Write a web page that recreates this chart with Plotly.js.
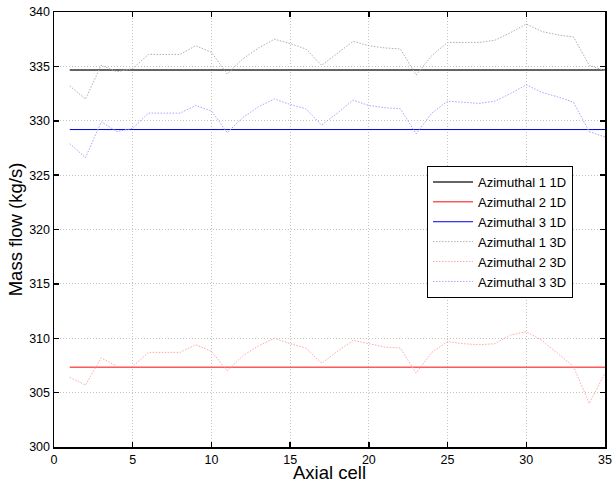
<!DOCTYPE html>
<html>
<head>
<meta charset="utf-8">
<script src="https://cdn.plot.ly/plotly-3.0.1.min.js"></script>
<style>html,body{margin:0;padding:0;background:#fff;}#chart{width:613px;height:483px;}</style>
</head>
<body>
<div id="chart"></div>
<script>
var axialCells = [];
for (var i = 1; i <= 35; i++) axialCells.push(i);

var az1_1D = 334.67;
var az2_1D = 307.34;
var az3_1D = 329.19;

var az1_3D = [333.2, 332.0, 335.1, 334.5, 334.8, 336.1, 336.1, 336.1, 336.9, 336.3,
              334.3, 335.7, 336.7, 337.5, 337.1, 336.6, 335.1, 336.2, 337.3, 336.9,
              336.7, 336.6, 334.2, 336.0, 337.2, 337.2, 337.2, 337.4, 338.1, 338.9,
              338.2, 337.9, 337.7, 335.1, 334.6];
var az2_3D = [306.4, 305.7, 308.2, 307.4, 307.4, 308.7, 308.7, 308.7, 309.4, 308.8,
              307.0, 308.4, 309.3, 310.0, 309.5, 309.1, 307.7, 308.8, 309.8, 309.5,
              309.2, 309.1, 306.8, 308.7, 309.7, 309.5, 309.4, 309.5, 310.3, 310.6,
              309.8, 308.6, 307.4, 304.0, 306.8];
var az3_3D = [327.9, 326.6, 329.9, 329.0, 329.3, 330.7, 330.7, 330.7, 331.4, 330.9,
              328.9, 330.3, 331.3, 332.0, 331.5, 331.1, 329.6, 330.7, 331.9, 331.4,
              331.2, 331.1, 328.8, 330.7, 331.8, 331.7, 331.6, 331.8, 332.5, 333.3,
              332.6, 332.2, 331.7, 329.0, 328.5];

var seriesNames = ['Azimuthal 1 1D', 'Azimuthal 2 1D', 'Azimuthal 3 1D',
                   'Azimuthal 1 3D', 'Azimuthal 2 3D', 'Azimuthal 3 3D'];

function constant(v) { return axialCells.map(function () { return v; }); }

var dotted = '1.5px,1.5px';
var traces = [
  {x: axialCells, y: constant(az1_1D), name: seriesNames[0], mode: 'lines',
   line: {color: 'rgb(50,50,50)', width: 1.5}},
  {x: axialCells, y: constant(az2_1D), name: seriesNames[1], mode: 'lines',
   line: {color: 'rgb(255,90,90)', width: 1.5}},
  {x: axialCells, y: constant(az3_1D), name: seriesNames[2], mode: 'lines',
   line: {color: 'rgb(0,0,230)', width: 1}},
  {x: axialCells, y: az1_3D, name: seriesNames[3], mode: 'lines',
   line: {color: 'rgb(175,175,175)', width: 1, dash: dotted}},
  {x: axialCells, y: az2_3D, name: seriesNames[4], mode: 'lines',
   line: {color: 'rgb(255,165,165)', width: 1, dash: dotted}},
  {x: axialCells, y: az3_3D, name: seriesNames[5], mode: 'lines',
   line: {color: 'rgb(165,165,255)', width: 1, dash: dotted}}
];

var axisCommon = {
  showline: true, linecolor: 'black', linewidth: 1.5, mirror: 'ticks',
  ticks: 'inside', ticklen: 5, tickwidth: 1.5, tickcolor: 'black',
  showgrid: true, gridcolor: 'rgb(195,195,195)', griddash: '1px,2px', gridwidth: 1,
  zeroline: false,
  tickfont: {family: 'Liberation Sans, Arial, sans-serif', size: 12.5, color: 'black'}
};

var layout = {
  width: 613, height: 483,
  margin: {l: 54, r: 8, t: 12, b: 36},
  paper_bgcolor: 'white', plot_bgcolor: 'white',
  font: {family: 'Liberation Sans, Arial, sans-serif', color: 'black'},
  xaxis: Object.assign({}, axisCommon, {
    range: [0, 35], tickmode: 'linear', tick0: 0, dtick: 5,
    title: {text: 'Axial cell', font: {size: 18.5}, standoff: 0}
  }),
  yaxis: Object.assign({}, axisCommon, {
    range: [300, 340], tickmode: 'linear', tick0: 300, dtick: 5,
    title: {text: 'Mass flow (kg/s)', font: {size: 18.5}, standoff: 1}
  }),
  showlegend: true,
  legend: {
    x: 0.677, y: 0.646, xanchor: 'left', yanchor: 'top',
    bordercolor: 'black', borderwidth: 1, bgcolor: 'white',
    font: {size: 13, family: 'Liberation Sans, Arial, sans-serif'},
    itemwidth: 40, tracegroupgap: 0
  }
};

Plotly.newPlot('chart', traces, layout, {staticPlot: true, displayModeBar: false});
</script>
</body>
</html>
